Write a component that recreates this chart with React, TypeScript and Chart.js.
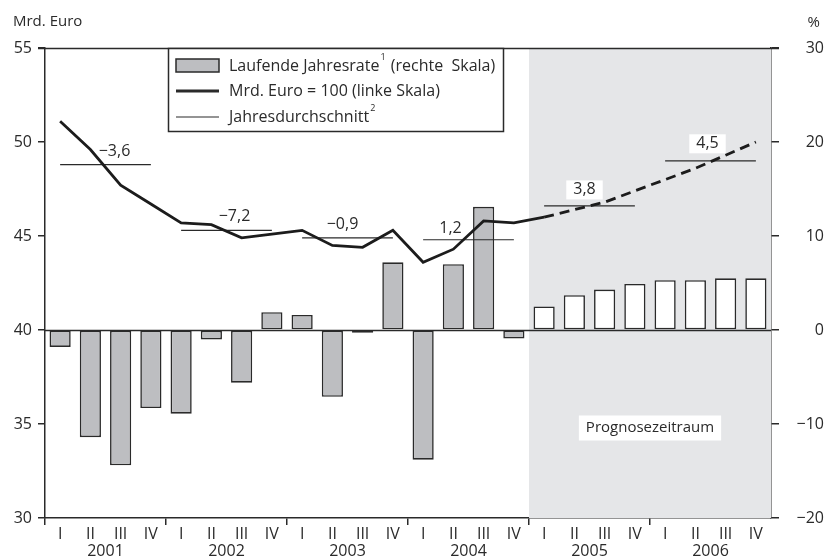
import React, { useEffect, useRef } from 'react';
import { Chart, registerables } from 'chart.js';

Chart.register(...registerables);

// ---------- data ----------
const quarterLabels = [
  'I', 'II', 'III', 'IV', 'I', 'II', 'III', 'IV', 'I', 'II', 'III', 'IV',
  'I', 'II', 'III', 'IV', 'I', 'II', 'III', 'IV', 'I', 'II', 'III', 'IV',
];
const yearLabels = ['2001', '2002', '2003', '2004', '2005', '2006'];
// Laufende Jahresrate (%, right scale)
const rateValues = [
  -1.8, -11.4, -14.4, -8.3,
  -8.9, -1.0, -5.6, 1.9,
  1.6, -7.1, -0.3, 7.2,
  -13.8, 7.0, 13.1, -0.9,
  2.5, 3.7, 4.3, 4.9,
  5.3, 5.3, 5.5, 5.5,
];
// Mrd. Euro (left scale)
const levelValues = [
  51.1, 49.6, 47.7, 46.7,
  45.7, 45.6, 44.9, 45.1,
  45.3, 44.5, 44.4, 45.3,
  43.6, 44.3, 45.8, 45.7,
  46.0, 46.4, 46.8, 47.4,
  48.0, 48.6, 49.3, 50.0,
];
// Jahresdurchschnitt (left scale)
const annualAverages = [48.8, 45.3, 44.9, 44.8, 46.6, 49.0];
const annualRateLabels = ['\u22123,6', '\u22127,2', '\u22120,9', '1,2', '3,8', '4,5'];
const forecastStartIndex = 16;
const forecastLabel = 'Prognosezeitraum';

// ---------- styling ----------
const FONT = '"Open Sans", sans-serif';
const INK = '#2a2a2a';
const BAR_GRAY = '#bdbec1';
const SHADE = '#e5e6e8';
// label nudges (px) relative to the centre of each average segment
const labelDx = [9, 8, -5, -18, -5, -3];
const labelDy = [13, 14, 13.5, 11.5, 16, 17];

export default function App() {
  const ref = useRef<HTMLCanvasElement>(null);

  useEffect(() => {
    const canvas = ref.current!;
    const avgData = quarterLabels.map((_, i) => annualAverages[Math.floor(i / 4)]);

    const decor = {
      id: 'decor',
      beforeDatasetsDraw(chart: any) {
        const { ctx, chartArea: ca, scales } = chart;
        const x = scales.x;
        const y = scales.y;
        const y1 = scales.y1;
        ctx.save();
        // forecast shading
        const xs = (x.getPixelForValue(forecastStartIndex - 1) + x.getPixelForValue(forecastStartIndex)) / 2;
        ctx.fillStyle = SHADE;
        ctx.fillRect(xs, ca.top, ca.right - xs, ca.bottom - ca.top);

        // zero line
        const y0 = Math.round(y1.getPixelForValue(0)) + 0.5;
        ctx.strokeStyle = INK;
        ctx.lineWidth = 1.5;
        ctx.beginPath();
        ctx.moveTo(ca.left, y0);
        ctx.lineTo(ca.right, y0);
        ctx.stroke();

        // Prognosezeitraum label
        ctx.font = `15px ${FONT}`;
        ctx.textBaseline = 'middle';
        ctx.textAlign = 'center';
        const px = (xs + ca.right) / 2;
        const py = y1.getPixelForValue(-10) + 4;
        const pw = ctx.measureText(forecastLabel).width;
        ctx.fillStyle = '#ffffff';
        ctx.fillRect(px - pw / 2 - 7, py - 12.5, pw + 14, 25);
        ctx.fillStyle = INK;
        ctx.fillText(forecastLabel, px, py);

        // annual rate labels
        ctx.font = `16px ${FONT}`;
        annualRateLabels.forEach((lab, k) => {
          const cx = (x.getPixelForValue(4 * k) + x.getPixelForValue(4 * k + 3)) / 2 + labelDx[k];
          const cy = y.getPixelForValue(annualAverages[k]) - labelDy[k];
          const w = ctx.measureText(lab).width;
          if (4 * k >= forecastStartIndex) {
            ctx.fillStyle = '#ffffff';
            ctx.fillRect(cx - w / 2 - 7, cy - 9.5, w + 14, 19);
          }
          ctx.fillStyle = INK;
          ctx.fillText(lab, cx, cy);
        });
        ctx.restore();
      },
      afterDraw(chart: any) {
        const { ctx, chartArea: ca, scales } = chart;
        const x = scales.x;
        ctx.save();
        // top frame line
        ctx.strokeStyle = INK;
        ctx.lineWidth = 1.5;
        ctx.beginPath();
        ctx.moveTo(ca.left - 7, ca.top + 0.5);
        ctx.lineTo(ca.right + 8, ca.top + 0.5);
        ctx.stroke();

        // axis titles
        ctx.fillStyle = INK;
        ctx.font = `15px ${FONT}`;
        ctx.textBaseline = 'middle';
        ctx.textAlign = 'left';
        ctx.fillText('Mrd. Euro', 13, 22);
        ctx.textAlign = 'right';
        ctx.fillText('%', 820, 23);

        // year labels
        ctx.font = `16px ${FONT}`;
        ctx.textAlign = 'center';
        yearLabels.forEach((yr, k) => {
          const cx = (x.getPixelForValue(4 * k) + x.getPixelForValue(4 * k + 3)) / 2;
          ctx.fillText(yr, cx, 551);
        });

        // legend
        const lx = ca.left + 123;
        const ly = ca.top;
        const lw = 335;
        const lh = 83;
        ctx.fillStyle = '#ffffff';
        ctx.fillRect(lx, ly, lw, lh);
        ctx.strokeStyle = INK;
        ctx.lineWidth = 1.5;
        ctx.strokeRect(lx + 0.5, ly + 0.5, lw, lh);

        const sx = lx + 8;
        const sw = 43;
        const tx = lx + 61;
        const rows = [ly + 18, ly + 43, ly + 69];
        // row 1: bar swatch
        ctx.fillStyle = BAR_GRAY;
        ctx.fillRect(sx, rows[0] - 7, sw, 13);
        ctx.lineWidth = 1.5;
        ctx.strokeRect(sx, rows[0] - 7, sw, 13);
        // row 2: thick line
        ctx.lineWidth = 2.8;
        ctx.beginPath();
        ctx.moveTo(sx, rows[1]);
        ctx.lineTo(sx + sw, rows[1]);
        ctx.stroke();
        // row 3: thin line
        ctx.lineWidth = 1.2;
        ctx.beginPath();
        ctx.moveTo(sx, rows[2]);
        ctx.lineTo(sx + sw, rows[2]);
        ctx.stroke();

        const drawWithSup = (a: string, sup: string, b: string, yy: number) => {
          ctx.font = `16px ${FONT}`;
          ctx.textAlign = 'left';
          ctx.fillStyle = INK;
          ctx.fillText(a, tx, yy);
          let cx = tx + ctx.measureText(a).width + 1;
          if (sup) {
            ctx.font = `9px ${FONT}`;
            ctx.fillText(sup, cx, yy - 9);
            cx += ctx.measureText(sup).width + 1;
          }
          if (b) {
            ctx.font = `16px ${FONT}`;
            ctx.fillText(b, cx, yy);
          }
        };
        drawWithSup('Laufende Jahresrate', '1', ' (rechte  Skala)', rows[0]);
        drawWithSup('Mrd. Euro = 100 (linke Skala)', '', '', rows[1]);
        drawWithSup('Jahresdurchschnitt', '2', '', rows[2]);
        ctx.restore();
      },
    };

    const chart = new Chart(canvas, {
      type: 'bar',
      data: {
        labels: quarterLabels,
        datasets: [
          {
            type: 'line',
            label: 'Mrd. Euro = 100 (linke Skala)',
            data: levelValues,
            yAxisID: 'y',
            borderColor: '#1c1c1c',
            borderWidth: 2.8,
            pointRadius: 0,
            tension: 0,
            order: 1,
            segment: {
              borderDash: (c: any) => (c.p0DataIndex >= forecastStartIndex ? [10, 6] : undefined),
            },
          } as any,
          {
            type: 'line',
            label: 'Jahresdurchschnitt',
            data: avgData,
            yAxisID: 'y',
            borderColor: INK,
            borderWidth: 1.2,
            pointRadius: 0,
            tension: 0,
            order: 2,
            segment: {
              borderColor: (c: any) =>
                Math.floor(c.p0DataIndex / 4) !== Math.floor(c.p1DataIndex / 4) ? 'rgba(0,0,0,0)' : INK,
            },
          } as any,
          {
            type: 'bar',
            label: 'Laufende Jahresrate (rechte Skala)',
            data: rateValues,
            yAxisID: 'y1',
            backgroundColor: rateValues.map((_, i) => (i >= forecastStartIndex ? '#ffffff' : BAR_GRAY)),
            borderColor: INK,
            borderWidth: 1.6,
            borderSkipped: false,
            categoryPercentage: 1,
            barPercentage: 0.7,
            order: 3,
          } as any,
        ],
      },
      options: {
        responsive: false,
        animation: false,
        events: [],
        layout: { padding: { top: 48, left: 0, right: 0, bottom: 0 } },
        plugins: { legend: { display: false }, tooltip: { enabled: false }, title: { display: false } },
        scales: {
          x: {
            type: 'category',
            offset: true,
            grid: {
              offset: true,
              drawOnChartArea: false,
              drawTicks: true,
              tickLength: 7,
              lineWidth: 1.5,
              color: (c: any) => (c.index % 4 === 0 ? INK : 'rgba(0,0,0,0)'),
            },
            border: { display: true, color: INK, width: 1.5 },
            ticks: {
              autoSkip: false,
              maxRotation: 0,
              padding: 0,
              color: INK,
              font: { family: FONT, size: 16 },
            },
            afterFit: (s: any) => {
              s.height = 42;
            },
          },
          y: {
            position: 'left',
            min: 30,
            max: 55,
            grid: { drawOnChartArea: false, drawTicks: true, tickLength: 7, color: INK, lineWidth: 1.5 },
            border: { display: true, color: INK, width: 1.5 },
            ticks: { stepSize: 5, padding: 6, color: INK, font: { family: FONT, size: 16 } },
            afterFit: (s: any) => {
              s.width = 45;
            },
          },
          y1: {
            position: 'right',
            min: -20,
            max: 30,
            grid: { drawOnChartArea: false, drawTicks: true, tickLength: 8, color: INK, lineWidth: 1.5 },
            border: { display: true, color: INK, width: 1.5 },
            ticks: {
              stepSize: 10,
              padding: 6,
              crossAlign: 'far',
              color: INK,
              font: { family: FONT, size: 16 },
              callback: (v: any) => (Number(v) < 0 ? '\u2212' + Math.abs(Number(v)) : String(v)),
            },
            afterFit: (s: any) => {
              s.width = 53;
            },
          },
        },
      },
      plugins: [decor],
    } as any);

    return () => chart.destroy();
  }, []);

  return (
    <div style={{ position: 'fixed', left: 0, top: 0, width: 824, height: 560, background: '#ffffff' }}>
      <canvas ref={ref} width={824} height={560} style={{ display: 'block', width: 824, height: 560 }} />
    </div>
  );
}
